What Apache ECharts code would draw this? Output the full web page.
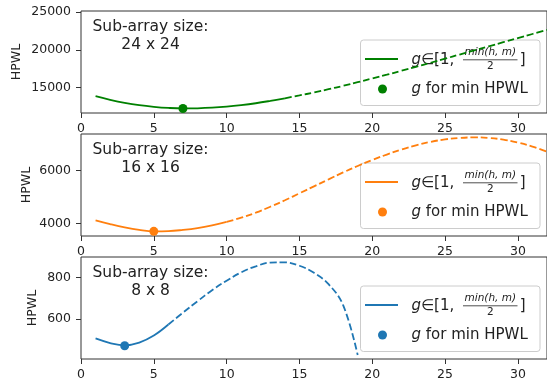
<!DOCTYPE html>
<html>
<head>
<meta charset="utf-8">
<script src="https://cdn.jsdelivr.net/npm/echarts@6/dist/echarts.min.js"></script>
<style>
html, body { margin: 0; padding: 0; background: #ffffff; }
#chart { width: 547px; height: 381px; }
</style>
</head>
<body>
<div id="chart"></div>
<script>
// g values (x axis) and HPWL
const gValues = [1, 2, 3, 4, 5, 6, 7, 8, 9, 10, 11, 12, 13, 14, 15, 16,
  17, 18, 19, 20, 21, 22, 23, 24, 25, 26, 27, 28, 29, 30, 31, 32]
const hpwl24 = [13870, 13400, 13000, 12690, 12470, 12320, 12250, 12270, 12350, 12490,
  12690, 12940, 13250, 13590, 13970, 14360, 14790, 15240, 15720, 16210, 16710, 17230,
  17760, 18290, 18830, 19380, 19920, 20460, 21010, 21550, 22090, 22630]
const hpwl16 = [4113, 3970, 3845, 3751, 3698, 3705, 3751, 3819, 3921, 4053, 4215, 4404,
  4630, 4875, 5140, 5404, 5668, 5932, 6177, 6404, 6611, 6800, 6959, 7091, 7185, 7242,
  7261, 7242, 7177, 7064, 6913, 6717]
const hpwl8 = [507, 485, 474, 487, 521, 574, 631, 686, 739, 785, 825, 854, 872, 873,
  857, 823, 768, 667, 427]
// last g of the solid part (g in [1, min(h,m)/2] range drawn solid)
const solidUpTo = [14, 10, 6]
const bestG = [[7, 12250], [5, 3698], [3, 472]]
const sizeLabels = ['24 x 24', '16 x 16', '8 x 8']
const xTicks = [0, 5, 10, 15, 20, 25, 30]
const yTicks24 = [15000, 20000, 25000]
const yTicks16 = [4000, 6000]
const yTicks8 = [600, 800]

const panels = [
  { vals: hpwl24, ticks: yTicks24, min: 11650, max: 25130, color: '#008000', top: 11, nameGap: 58 },
  { vals: hpwl16, ticks: yTicks16, min: 3520, max: 7390, color: '#ff7f0e', top: 134, nameGap: 48 },
  { vals: hpwl8, ticks: yTicks8, min: 408, max: 899, color: '#1f77b4', top: 257, nameGap: 41.5 }
]

const FONT = '"DejaVu Sans", "Liberation Sans", sans-serif'
const GRID_H = 102
const INK = '#222222'

function legendBox (gridTop, color) {
  const boxH = 65.5
  const boxTop = gridTop + GRID_H - 7.5 - boxH
  return {
    type: 'group',
    x: 360.5,
    y: boxTop,
    z: 100,
    children: [
      { type: 'rect', shape: { x: 0, y: 0, width: 179.5, height: boxH, r: 3 },
        style: { fill: 'rgba(255,255,255,0.8)', stroke: '#cccccc', lineWidth: 1 } },
      { type: 'line', shape: { x1: 4.5, y1: 19, x2: 37.5, y2: 19 },
        style: { stroke: color, lineWidth: 1.8 } },
      { type: 'text', x: 51, y: 20,
        style: { text: '{i|g}∈[1,', fontSize: 15, fontFamily: FONT, fill: INK, verticalAlign: 'middle',
          rich: { i: { fontStyle: 'italic', fontSize: 15, fontFamily: FONT, fill: INK } } } },
      { type: 'text', x: 129.8, y: 12,
        style: { text: 'min(h, m)', fontSize: 10.5, fontStyle: 'italic', fontFamily: FONT, fill: INK,
          align: 'center', verticalAlign: 'middle' } },
      { type: 'line', shape: { x1: 102.5, y1: 19.8, x2: 157, y2: 19.8 },
        style: { stroke: INK, lineWidth: 0.8 } },
      { type: 'text', x: 129.8, y: 26,
        style: { text: '2', fontSize: 10.5, fontFamily: FONT, fill: INK, align: 'center', verticalAlign: 'middle' } },
      { type: 'text', x: 159.3, y: 20,
        style: { text: ']', fontSize: 15, fontFamily: FONT, fill: INK, verticalAlign: 'middle' } },
      { type: 'circle', shape: { cx: 22, cy: 49, r: 4.5 }, style: { fill: color } },
      { type: 'text', x: 51, y: 49,
        style: { text: '{i|g} for min HPWL', fontSize: 15, fontFamily: FONT, fill: INK, verticalAlign: 'middle',
          rich: { i: { fontStyle: 'italic', fontSize: 15, fontFamily: FONT, fill: INK } } } }
    ]
  }
}

const grids = []
const xAxes = []
const yAxes = []
const series = []
const graphics = []

panels.forEach(function (p, i) {
  grids.push({
    left: 81, top: p.top, width: 466, height: GRID_H,
    show: true, borderColor: '#333333', borderWidth: 1, backgroundColor: 'transparent'
  })
  xAxes.push({
    type: 'value', gridIndex: i, min: 0, max: 32,
    axisLine: { show: false },
    axisTick: { show: true, length: 5, customValues: xTicks, lineStyle: { color: '#333333' } },
    axisLabel: { customValues: xTicks, margin: 9, fontSize: 12.5, fontFamily: FONT, color: INK },
    splitLine: { show: false }
  })
  yAxes.push({
    type: 'value', gridIndex: i, min: p.min, max: p.max,
    name: 'HPWL', nameLocation: 'middle', nameRotate: 90, nameGap: p.nameGap, nameMoveOverlap: false,
    nameTextStyle: { fontSize: 12.5, fontFamily: FONT, color: INK },
    axisLine: { show: false },
    axisTick: { show: true, length: 5, customValues: p.ticks, lineStyle: { color: '#333333' } },
    axisLabel: { customValues: p.ticks, margin: 10, fontSize: 12.5, fontFamily: FONT, color: INK,
      formatter: function (v) { return String(v) } },
    splitLine: { show: false }
  })
  const pts = p.vals.map(function (v, k) { return [gValues[k], v] })
  const cut = solidUpTo[i]
  series.push({
    type: 'line', xAxisIndex: i, yAxisIndex: i, smooth: 0.4, showSymbol: false, silent: true,
    data: pts.filter(function (d) { return d[0] <= cut }),
    lineStyle: { color: p.color, width: 1.8 }, z: 3
  })
  series.push({
    type: 'line', xAxisIndex: i, yAxisIndex: i, smooth: 0.4, showSymbol: false, silent: true,
    data: pts.filter(function (d) { return d[0] >= cut }),
    lineStyle: { color: p.color, width: 1.8, type: [7, 3] }, z: 3
  })
  series.push({
    type: 'scatter', xAxisIndex: i, yAxisIndex: i, symbolSize: 9, silent: true,
    data: [bestG[i]], itemStyle: { color: p.color, opacity: 1 }, z: 4
  })
  graphics.push({
    type: 'text', x: 150.5, y: p.top + 25, z: 50,
    style: { text: 'Sub-array size:\n' + sizeLabels[i], fontSize: 15.5, fontFamily: FONT, fill: INK,
      align: 'center', verticalAlign: 'middle', lineHeight: 17.5 }
  })
  graphics.push(legendBox(p.top, p.color))
})

const chart = echarts.init(document.getElementById('chart'))
chart.setOption({
  animation: false,
  backgroundColor: '#ffffff',
  grid: grids,
  xAxis: xAxes,
  yAxis: yAxes,
  series: series,
  graphic: graphics
})
</script>
</body>
</html>
